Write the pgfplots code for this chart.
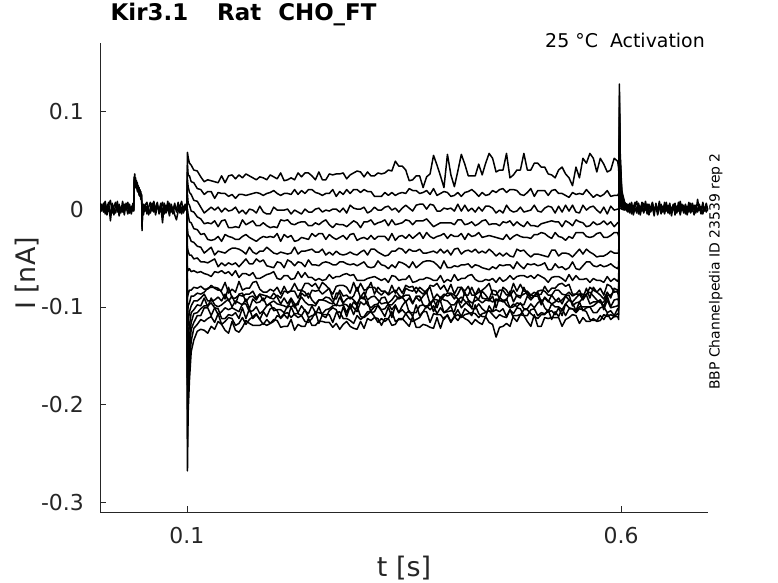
\documentclass[border=0pt]{standalone}
\usepackage{fontspec}
\setmainfont{DejaVu Sans}
\usepackage{pgfplots}
\usepackage{pgfplotstable}
\pgfplotsset{compat=1.18}
\definecolor{axgray}{RGB}{38,38,38}
\pgfplotsset{trace/.style={black, line width=1.5bp, mark=none, line join=round}}

\pgfplotstableread{
t A B C D E F G H I J K L M N O P
0.1000 0.001 -0.001 0.002 0.000 -0.002 0.001 -0.001 0.002 0.000 -0.001 0.001 -0.002 0.000 0.002 -0.001 0.000
0.1007 0.058 0.045 0.030 0.015 0.000 -0.020 -0.040 -0.060 -0.090 -0.110 -0.130 -0.155 -0.180 -0.205 -0.235 -0.268
0.1015 0.053 0.035 0.023 0.006 -0.006 -0.027 -0.043 -0.063 -0.087 -0.099 -0.116 -0.131 -0.150 -0.165 -0.187 -0.208
0.1030 0.047 0.034 0.017 0.004 -0.013 -0.028 -0.047 -0.061 -0.083 -0.096 -0.105 -0.119 -0.130 -0.144 -0.157 -0.175
0.1050 0.045 0.028 0.015 -0.002 -0.014 -0.033 -0.047 -0.064 -0.083 -0.089 -0.099 -0.106 -0.116 -0.123 -0.135 -0.146
0.1080 0.040 0.027 0.009 -0.003 -0.020 -0.034 -0.051 -0.063 -0.080 -0.089 -0.094 -0.103 -0.107 -0.116 -0.122 -0.134
0.1120 0.039 0.021 0.008 -0.008 -0.021 -0.038 -0.050 -0.065 -0.081 -0.086 -0.094 -0.098 -0.106 -0.109 -0.118 -0.125
0.1160 0.033 0.020 0.002 -0.010 -0.026 -0.039 -0.054 -0.064 -0.079 -0.087 -0.091 -0.099 -0.102 -0.109 -0.113 -0.123
0.120 0.028 0.015 -0.004 -0.015 -0.025 -0.045 -0.054 -0.066 -0.082 -0.085 -0.087 -0.091 -0.099 -0.101 -0.115 -0.124
0.124 0.030 0.018 -0.001 -0.014 -0.031 -0.042 -0.055 -0.067 -0.082 -0.081 -0.094 -0.100 -0.099 -0.101 -0.112 -0.127
0.128 0.029 0.018 0.002 -0.015 -0.032 -0.039 -0.053 -0.069 -0.078 -0.080 -0.094 -0.091 -0.096 -0.109 -0.110 -0.120
0.132 0.028 0.011 -0.001 -0.012 -0.031 -0.047 -0.051 -0.064 -0.081 -0.080 -0.093 -0.098 -0.101 -0.101 -0.116 -0.123
0.136 0.027 0.017 0.002 -0.018 -0.028 -0.043 -0.059 -0.065 -0.083 -0.081 -0.090 -0.100 -0.108 -0.102 -0.107 -0.115
0.140 0.034 0.016 -0.003 -0.012 -0.033 -0.044 -0.055 -0.063 -0.083 -0.085 -0.094 -0.098 -0.105 -0.112 -0.118 -0.118
0.144 0.027 0.016 0.001 -0.011 -0.026 -0.045 -0.058 -0.066 -0.075 -0.092 -0.087 -0.095 -0.101 -0.112 -0.115 -0.124
0.148 0.034 0.013 -0.002 -0.019 -0.028 -0.042 -0.055 -0.064 -0.086 -0.080 -0.094 -0.092 -0.103 -0.108 -0.111 -0.127
0.152 0.035 0.015 -0.001 -0.019 -0.029 -0.040 -0.057 -0.068 -0.082 -0.091 -0.089 -0.100 -0.101 -0.109 -0.112 -0.115
0.156 0.031 0.011 0.002 -0.018 -0.031 -0.040 -0.055 -0.063 -0.085 -0.091 -0.097 -0.094 -0.103 -0.106 -0.119 -0.124
0.160 0.035 0.015 -0.004 -0.019 -0.031 -0.041 -0.059 -0.070 -0.074 -0.088 -0.087 -0.096 -0.105 -0.112 -0.117 -0.126
0.164 0.032 0.015 -0.001 -0.011 -0.028 -0.043 -0.055 -0.066 -0.083 -0.089 -0.086 -0.098 -0.097 -0.101 -0.111 -0.121
0.168 0.036 0.014 -0.005 -0.016 -0.026 -0.046 -0.051 -0.066 -0.081 -0.087 -0.095 -0.092 -0.097 -0.112 -0.118 -0.114
0.172 0.034 0.015 0.000 -0.014 -0.029 -0.039 -0.056 -0.068 -0.081 -0.087 -0.090 -0.102 -0.105 -0.102 -0.113 -0.117
0.176 0.032 0.016 -0.001 -0.012 -0.031 -0.044 -0.056 -0.065 -0.075 -0.084 -0.089 -0.092 -0.104 -0.112 -0.110 -0.119
0.180 0.030 0.017 -0.004 -0.017 -0.033 -0.046 -0.051 -0.071 -0.074 -0.091 -0.093 -0.096 -0.100 -0.108 -0.107 -0.119
0.184 0.033 0.016 0.003 -0.017 -0.030 -0.043 -0.054 -0.071 -0.082 -0.087 -0.087 -0.095 -0.107 -0.113 -0.113 -0.119
0.188 0.032 0.014 -0.003 -0.014 -0.028 -0.043 -0.052 -0.069 -0.085 -0.088 -0.094 -0.091 -0.104 -0.105 -0.118 -0.117
0.192 0.030 0.016 -0.005 -0.017 -0.029 -0.039 -0.058 -0.067 -0.085 -0.089 -0.089 -0.099 -0.099 -0.110 -0.113 -0.119
0.196 0.035 0.017 -0.005 -0.019 -0.028 -0.042 -0.059 -0.066 -0.082 -0.091 -0.091 -0.096 -0.097 -0.102 -0.117 -0.117
0.200 0.033 0.019 0.002 -0.018 -0.029 -0.045 -0.060 -0.064 -0.084 -0.092 -0.086 -0.094 -0.104 -0.101 -0.115 -0.113
0.204 0.031 0.016 -0.001 -0.019 -0.025 -0.046 -0.054 -0.071 -0.080 -0.088 -0.090 -0.097 -0.103 -0.104 -0.109 -0.114
0.208 0.037 0.014 -0.001 -0.011 -0.033 -0.044 -0.055 -0.072 -0.087 -0.091 -0.097 -0.098 -0.103 -0.112 -0.111 -0.121
0.212 0.029 0.016 -0.001 -0.012 -0.026 -0.045 -0.060 -0.068 -0.079 -0.084 -0.091 -0.099 -0.106 -0.108 -0.107 -0.120
0.216 0.030 0.016 0.000 -0.011 -0.029 -0.046 -0.052 -0.068 -0.086 -0.085 -0.097 -0.101 -0.099 -0.112 -0.106 -0.120
0.220 0.032 0.015 -0.005 -0.015 -0.027 -0.045 -0.054 -0.072 -0.083 -0.084 -0.091 -0.093 -0.100 -0.100 -0.111 -0.113
0.224 0.030 0.020 -0.001 -0.016 -0.033 -0.039 -0.058 -0.071 -0.076 -0.084 -0.097 -0.101 -0.098 -0.108 -0.107 -0.124
0.228 0.037 0.015 -0.003 -0.014 -0.032 -0.046 -0.054 -0.064 -0.083 -0.091 -0.098 -0.095 -0.106 -0.111 -0.107 -0.118
0.232 0.033 0.019 -0.005 -0.013 -0.029 -0.043 -0.055 -0.070 -0.083 -0.083 -0.086 -0.090 -0.099 -0.109 -0.109 -0.120
0.236 0.037 0.016 0.000 -0.013 -0.030 -0.043 -0.059 -0.065 -0.076 -0.085 -0.089 -0.095 -0.104 -0.103 -0.115 -0.120
0.240 0.037 0.020 -0.003 -0.017 -0.031 -0.042 -0.052 -0.070 -0.076 -0.091 -0.086 -0.098 -0.107 -0.111 -0.116 -0.112
0.244 0.034 0.020 -0.003 -0.017 -0.025 -0.041 -0.057 -0.070 -0.079 -0.083 -0.093 -0.098 -0.099 -0.109 -0.112 -0.119
0.248 0.030 0.017 0.000 -0.014 -0.028 -0.044 -0.057 -0.073 -0.076 -0.084 -0.097 -0.099 -0.106 -0.108 -0.105 -0.119
0.252 0.038 0.016 0.001 -0.016 -0.025 -0.044 -0.058 -0.071 -0.082 -0.083 -0.093 -0.093 -0.106 -0.100 -0.117 -0.115
0.256 0.030 0.014 -0.003 -0.013 -0.025 -0.041 -0.055 -0.073 -0.075 -0.087 -0.093 -0.093 -0.107 -0.109 -0.108 -0.115
0.260 0.030 0.016 -0.001 -0.011 -0.031 -0.047 -0.054 -0.072 -0.078 -0.084 -0.094 -0.090 -0.103 -0.111 -0.108 -0.116
0.264 0.036 0.016 -0.002 -0.016 -0.026 -0.044 -0.055 -0.067 -0.082 -0.081 -0.096 -0.091 -0.102 -0.104 -0.108 -0.116
0.268 0.035 0.020 0.000 -0.019 -0.029 -0.047 -0.057 -0.071 -0.087 -0.092 -0.097 -0.095 -0.099 -0.101 -0.116 -0.121
0.272 0.036 0.013 0.000 -0.015 -0.031 -0.043 -0.057 -0.069 -0.079 -0.092 -0.086 -0.099 -0.098 -0.103 -0.106 -0.117
0.276 0.036 0.018 -0.003 -0.016 -0.029 -0.046 -0.054 -0.069 -0.078 -0.083 -0.086 -0.090 -0.099 -0.112 -0.105 -0.123
0.280 0.037 0.015 0.001 -0.016 -0.027 -0.047 -0.054 -0.067 -0.078 -0.089 -0.096 -0.097 -0.098 -0.100 -0.112 -0.118
0.284 0.031 0.020 -0.004 -0.018 -0.031 -0.046 -0.056 -0.066 -0.080 -0.088 -0.092 -0.098 -0.106 -0.110 -0.112 -0.115
0.288 0.035 0.016 0.004 -0.015 -0.026 -0.044 -0.057 -0.068 -0.086 -0.092 -0.090 -0.102 -0.097 -0.099 -0.114 -0.120
0.292 0.037 0.020 0.001 -0.012 -0.025 -0.046 -0.056 -0.067 -0.075 -0.089 -0.093 -0.095 -0.101 -0.108 -0.117 -0.122
0.296 0.039 0.020 0.000 -0.014 -0.032 -0.047 -0.058 -0.073 -0.084 -0.080 -0.097 -0.099 -0.105 -0.099 -0.109 -0.123
0.300 0.038 0.017 0.000 -0.019 -0.030 -0.044 -0.056 -0.073 -0.076 -0.091 -0.090 -0.090 -0.095 -0.110 -0.113 -0.115
0.304 0.033 0.020 0.002 -0.013 -0.029 -0.042 -0.054 -0.073 -0.083 -0.092 -0.085 -0.090 -0.098 -0.111 -0.110 -0.122
0.308 0.038 0.018 -0.004 -0.013 -0.031 -0.047 -0.059 -0.071 -0.082 -0.080 -0.093 -0.098 -0.094 -0.108 -0.105 -0.112
0.312 0.034 0.018 -0.002 -0.011 -0.027 -0.041 -0.060 -0.070 -0.075 -0.080 -0.090 -0.101 -0.106 -0.104 -0.105 -0.114
0.316 0.034 0.013 0.002 -0.016 -0.031 -0.041 -0.059 -0.069 -0.087 -0.080 -0.089 -0.098 -0.105 -0.100 -0.110 -0.111
0.320 0.037 0.013 -0.001 -0.014 -0.028 -0.044 -0.053 -0.071 -0.080 -0.085 -0.093 -0.097 -0.098 -0.099 -0.116 -0.112
0.324 0.036 0.013 -0.001 -0.013 -0.028 -0.046 -0.057 -0.073 -0.084 -0.088 -0.097 -0.091 -0.103 -0.104 -0.112 -0.119
0.328 0.037 0.017 0.002 -0.011 -0.028 -0.048 -0.058 -0.071 -0.084 -0.084 -0.096 -0.090 -0.102 -0.110 -0.115 -0.112
0.332 0.040 0.014 0.003 -0.017 -0.032 -0.047 -0.061 -0.075 -0.087 -0.088 -0.096 -0.098 -0.097 -0.100 -0.112 -0.112
0.336 0.039 0.017 -0.001 -0.011 -0.025 -0.043 -0.057 -0.068 -0.078 -0.085 -0.093 -0.098 -0.103 -0.111 -0.105 -0.119
0.340 0.049 0.014 0.001 -0.016 -0.032 -0.043 -0.060 -0.069 -0.086 -0.083 -0.088 -0.094 -0.098 -0.099 -0.115 -0.118
0.344 0.044 0.016 -0.003 -0.015 -0.028 -0.040 -0.054 -0.073 -0.080 -0.088 -0.092 -0.090 -0.106 -0.106 -0.113 -0.112
0.348 0.044 0.017 0.001 -0.014 -0.027 -0.041 -0.055 -0.072 -0.086 -0.091 -0.090 -0.090 -0.099 -0.103 -0.113 -0.112
0.352 0.040 0.016 0.004 -0.011 -0.030 -0.045 -0.057 -0.072 -0.078 -0.081 -0.088 -0.095 -0.094 -0.107 -0.107 -0.116
0.356 0.029 0.021 0.001 -0.012 -0.026 -0.041 -0.060 -0.068 -0.080 -0.083 -0.088 -0.091 -0.106 -0.104 -0.112 -0.120
0.360 0.030 0.019 -0.002 -0.016 -0.030 -0.043 -0.054 -0.075 -0.079 -0.084 -0.096 -0.097 -0.106 -0.110 -0.115 -0.110
0.364 0.034 0.019 0.004 -0.012 -0.027 -0.043 -0.060 -0.074 -0.086 -0.080 -0.090 -0.089 -0.106 -0.098 -0.113 -0.121
0.368 0.034 0.016 0.005 -0.012 -0.024 -0.041 -0.057 -0.072 -0.080 -0.084 -0.094 -0.089 -0.099 -0.109 -0.111 -0.121
0.372 0.022 0.017 0.005 -0.012 -0.030 -0.045 -0.054 -0.072 -0.083 -0.087 -0.089 -0.098 -0.098 -0.105 -0.105 -0.118
0.376 0.033 0.019 0.000 -0.010 -0.024 -0.045 -0.053 -0.070 -0.086 -0.083 -0.085 -0.100 -0.101 -0.099 -0.105 -0.119
0.380 0.036 0.015 0.005 -0.014 -0.028 -0.044 -0.053 -0.071 -0.078 -0.080 -0.097 -0.098 -0.095 -0.103 -0.116 -0.121
0.384 0.055 0.021 0.004 -0.018 -0.030 -0.043 -0.054 -0.073 -0.079 -0.092 -0.092 -0.093 -0.105 -0.099 -0.107 -0.122
0.388 0.045 0.014 -0.002 -0.016 -0.028 -0.045 -0.057 -0.073 -0.076 -0.087 -0.093 -0.101 -0.095 -0.107 -0.108 -0.111
0.392 0.034 0.016 -0.002 -0.014 -0.027 -0.041 -0.061 -0.068 -0.082 -0.091 -0.094 -0.090 -0.094 -0.101 -0.108 -0.122
0.396 0.022 0.018 0.001 -0.014 -0.025 -0.045 -0.053 -0.075 -0.078 -0.087 -0.089 -0.093 -0.106 -0.106 -0.113 -0.111
0.400 0.056 0.017 0.000 -0.014 -0.030 -0.042 -0.060 -0.072 -0.085 -0.089 -0.086 -0.094 -0.105 -0.103 -0.108 -0.109
0.404 0.035 0.013 0.001 -0.014 -0.026 -0.047 -0.060 -0.074 -0.077 -0.087 -0.086 -0.098 -0.104 -0.099 -0.115 -0.116
0.408 0.023 0.014 -0.002 -0.016 -0.028 -0.041 -0.058 -0.067 -0.087 -0.092 -0.088 -0.098 -0.105 -0.109 -0.110 -0.110
0.412 0.039 0.017 0.005 -0.011 -0.028 -0.040 -0.059 -0.073 -0.080 -0.087 -0.092 -0.093 -0.093 -0.103 -0.108 -0.114
0.416 0.056 0.013 -0.002 -0.011 -0.025 -0.046 -0.057 -0.071 -0.080 -0.080 -0.096 -0.090 -0.101 -0.110 -0.111 -0.109
0.420 0.046 0.017 0.004 -0.016 -0.031 -0.043 -0.057 -0.071 -0.084 -0.088 -0.085 -0.094 -0.097 -0.102 -0.108 -0.112
0.424 0.034 0.018 -0.002 -0.015 -0.025 -0.042 -0.056 -0.068 -0.079 -0.088 -0.093 -0.098 -0.094 -0.105 -0.107 -0.114
0.428 0.034 0.020 0.001 -0.013 -0.028 -0.044 -0.060 -0.067 -0.088 -0.080 -0.096 -0.101 -0.102 -0.109 -0.106 -0.118
0.432 0.034 0.017 -0.003 -0.017 -0.027 -0.041 -0.057 -0.072 -0.088 -0.088 -0.094 -0.089 -0.102 -0.098 -0.107 -0.113
0.436 0.046 0.013 0.002 -0.015 -0.024 -0.045 -0.058 -0.074 -0.085 -0.081 -0.092 -0.093 -0.097 -0.107 -0.111 -0.116
0.440 0.035 0.017 -0.002 -0.012 -0.029 -0.043 -0.060 -0.074 -0.083 -0.091 -0.084 -0.096 -0.102 -0.110 -0.107 -0.118
0.444 0.047 0.014 0.003 -0.011 -0.028 -0.045 -0.061 -0.072 -0.080 -0.092 -0.088 -0.093 -0.105 -0.110 -0.106 -0.110
0.448 0.057 0.015 0.003 -0.016 -0.027 -0.041 -0.062 -0.073 -0.076 -0.092 -0.093 -0.094 -0.104 -0.099 -0.104 -0.116
0.452 0.052 0.019 0.001 -0.015 -0.028 -0.044 -0.059 -0.071 -0.087 -0.083 -0.095 -0.089 -0.105 -0.105 -0.108 -0.118
0.456 0.038 0.017 -0.004 -0.015 -0.029 -0.048 -0.061 -0.075 -0.088 -0.084 -0.092 -0.101 -0.093 -0.103 -0.112 -0.131
0.460 0.040 0.020 -0.001 -0.017 -0.030 -0.045 -0.057 -0.070 -0.083 -0.092 -0.093 -0.090 -0.094 -0.105 -0.108 -0.121
0.464 0.040 0.021 -0.004 -0.013 -0.031 -0.048 -0.058 -0.074 -0.083 -0.080 -0.095 -0.094 -0.093 -0.102 -0.110 -0.120
0.468 0.057 0.017 0.004 -0.014 -0.026 -0.045 -0.057 -0.072 -0.088 -0.083 -0.093 -0.092 -0.098 -0.110 -0.111 -0.117
0.472 0.032 0.020 -0.001 -0.012 -0.031 -0.048 -0.057 -0.068 -0.087 -0.089 -0.084 -0.101 -0.101 -0.103 -0.103 -0.120
0.476 0.035 0.020 -0.003 -0.017 -0.028 -0.049 -0.061 -0.072 -0.076 -0.083 -0.095 -0.100 -0.097 -0.107 -0.111 -0.109
0.480 0.040 0.019 -0.002 -0.013 -0.026 -0.041 -0.054 -0.069 -0.084 -0.089 -0.088 -0.096 -0.100 -0.101 -0.115 -0.109
0.484 0.040 0.015 0.002 -0.016 -0.028 -0.043 -0.058 -0.068 -0.077 -0.091 -0.089 -0.097 -0.096 -0.102 -0.108 -0.108
0.488 0.057 0.014 -0.003 -0.018 -0.029 -0.042 -0.061 -0.068 -0.084 -0.080 -0.087 -0.098 -0.102 -0.109 -0.103 -0.109
0.492 0.040 0.017 -0.002 -0.013 -0.029 -0.046 -0.056 -0.070 -0.084 -0.088 -0.085 -0.089 -0.102 -0.109 -0.103 -0.115
0.496 0.040 0.021 -0.001 -0.017 -0.030 -0.049 -0.057 -0.068 -0.088 -0.088 -0.091 -0.093 -0.097 -0.103 -0.107 -0.120
0.500 0.047 0.013 0.004 -0.017 -0.026 -0.046 -0.056 -0.071 -0.085 -0.089 -0.089 -0.089 -0.101 -0.102 -0.110 -0.108
0.504 0.047 0.019 -0.002 -0.018 -0.026 -0.046 -0.058 -0.067 -0.088 -0.084 -0.085 -0.089 -0.096 -0.109 -0.112 -0.120
0.508 0.043 0.019 -0.003 -0.015 -0.024 -0.047 -0.057 -0.069 -0.087 -0.083 -0.095 -0.098 -0.093 -0.106 -0.108 -0.120
0.512 0.043 0.019 0.001 -0.014 -0.025 -0.048 -0.055 -0.071 -0.079 -0.084 -0.091 -0.090 -0.101 -0.107 -0.108 -0.111
0.516 0.036 0.014 0.003 -0.013 -0.028 -0.049 -0.062 -0.075 -0.085 -0.088 -0.095 -0.094 -0.105 -0.105 -0.103 -0.112
0.520 0.035 0.019 0.002 -0.012 -0.030 -0.042 -0.062 -0.070 -0.081 -0.088 -0.088 -0.097 -0.097 -0.104 -0.113 -0.111
0.524 0.032 0.020 -0.004 -0.013 -0.024 -0.042 -0.056 -0.069 -0.081 -0.083 -0.093 -0.095 -0.100 -0.108 -0.105 -0.111
0.528 0.040 0.016 0.003 -0.013 -0.028 -0.048 -0.060 -0.069 -0.077 -0.083 -0.095 -0.091 -0.100 -0.101 -0.110 -0.111
0.532 0.043 0.016 -0.003 -0.018 -0.029 -0.045 -0.059 -0.071 -0.076 -0.087 -0.093 -0.097 -0.103 -0.109 -0.102 -0.120
0.536 0.036 0.014 0.004 -0.012 -0.032 -0.045 -0.062 -0.074 -0.079 -0.088 -0.089 -0.089 -0.097 -0.097 -0.109 -0.113
0.540 0.032 0.012 -0.002 -0.014 -0.028 -0.046 -0.060 -0.067 -0.077 -0.085 -0.093 -0.088 -0.093 -0.101 -0.102 -0.111
0.544 0.024 0.017 0.004 -0.017 -0.030 -0.049 -0.054 -0.073 -0.087 -0.089 -0.095 -0.099 -0.096 -0.102 -0.102 -0.108
0.548 0.043 0.015 -0.003 -0.011 -0.024 -0.045 -0.061 -0.068 -0.087 -0.087 -0.091 -0.096 -0.104 -0.104 -0.106 -0.109
0.552 0.032 0.016 -0.004 -0.013 -0.024 -0.041 -0.062 -0.072 -0.087 -0.083 -0.087 -0.095 -0.095 -0.100 -0.102 -0.117
0.556 0.052 0.015 0.004 -0.014 -0.024 -0.046 -0.058 -0.072 -0.087 -0.091 -0.093 -0.091 -0.104 -0.100 -0.103 -0.111
0.560 0.047 0.020 -0.001 -0.018 -0.028 -0.041 -0.054 -0.071 -0.088 -0.081 -0.087 -0.088 -0.101 -0.100 -0.105 -0.115
0.564 0.057 0.016 0.002 -0.017 -0.029 -0.044 -0.054 -0.075 -0.080 -0.091 -0.085 -0.097 -0.100 -0.100 -0.113 -0.115
0.568 0.052 0.012 0.003 -0.013 -0.028 -0.046 -0.058 -0.071 -0.083 -0.080 -0.089 -0.095 -0.099 -0.106 -0.114 -0.112
0.572 0.038 0.015 -0.001 -0.016 -0.025 -0.049 -0.059 -0.073 -0.085 -0.085 -0.093 -0.095 -0.096 -0.106 -0.114 -0.115
0.576 0.052 0.013 -0.004 -0.015 -0.024 -0.048 -0.057 -0.073 -0.081 -0.088 -0.096 -0.093 -0.093 -0.101 -0.109 -0.114
0.580 0.046 0.015 0.002 -0.012 -0.029 -0.048 -0.059 -0.075 -0.088 -0.092 -0.095 -0.100 -0.103 -0.100 -0.113 -0.108
0.584 0.038 0.019 -0.005 -0.016 -0.029 -0.046 -0.058 -0.069 -0.077 -0.085 -0.088 -0.089 -0.093 -0.106 -0.107 -0.110
0.588 0.040 0.013 0.003 -0.013 -0.027 -0.043 -0.056 -0.074 -0.079 -0.091 -0.088 -0.100 -0.101 -0.104 -0.113 -0.108
0.592 0.052 0.014 -0.001 -0.018 -0.024 -0.045 -0.059 -0.071 -0.085 -0.081 -0.084 -0.093 -0.100 -0.109 -0.110 -0.110
0.596 0.049 0.014 0.000 -0.014 -0.024 -0.045 -0.061 -0.074 -0.084 -0.083 -0.085 -0.092 -0.099 -0.102 -0.107 -0.110
0.5972 0.041 0.016 0.000 -0.014 -0.028 -0.045 -0.058 -0.071 -0.082 -0.086 -0.090 -0.094 -0.098 -0.103 -0.108 -0.113
0.5980 0.002 0.008 0.012 0.018 0.025 0.032 0.040 0.048 0.058 0.066 0.075 0.084 0.094 0.104 0.116 0.128
0.5989 0.001 0.004 0.005 0.008 0.011 0.014 0.018 0.022 0.026 0.030 0.034 0.038 0.042 0.047 0.052 0.058
0.6007 0.000 0.001 0.002 0.003 0.004 0.005 0.006 0.007 0.009 0.010 0.011 0.013 0.014 0.016 0.017 0.019
0.6037 -0.001 0.002 0.000 0.001 0.003 0.001 0.002 0.004 0.002 0.005 0.003 0.006 0.004 0.007 0.005 0.008
0.6077 0.002 -0.002 0.001 -0.001 0.003 0.000 -0.003 0.002 0.001 -0.002 0.004 0.000 -0.001 0.003 0.002 -0.002
}\steps

\pgfplotstableread{
t b1 b2 b3
0.000 0.003 -0.004 0.006
0.002 -0.002 0.005 -0.001
0.004 0.006 -0.003 0.002
0.006 -0.005 0.004 0.008
0.008 0.002 -0.006 -0.002
0.010 0.007 0.001 0.004
0.012 -0.012 -0.005 0.009
0.014 0.004 0.006 -0.004
0.016 -0.006 0.000 0.003
0.018 0.005 -0.004 0.007
0.020 -0.001 0.008 -0.003
0.022 0.003 -0.007 0.005
0.024 -0.004 0.002 -0.001
0.026 0.008 -0.003 0.004
0.028 -0.002 0.005 -0.006
0.030 0.004 -0.001 0.006
0.032 -0.005 0.007 0.000
0.034 0.002 -0.004 0.005
0.036 -0.003 0.003 -0.005
0.038 0.006 -0.002 0.003
0.0390 -0.001 0.004 -0.002
0.0394 0.030 0.033 0.028
0.0400 0.036 0.027 0.031
0.0410 0.025 0.032 0.022
0.0420 0.029 0.021 0.027
0.0430 0.020 0.027 0.018
0.0440 0.024 0.017 0.023
0.0450 0.016 0.022 0.014
0.0460 0.020 0.013 0.019
0.0470 0.012 0.018 0.010
0.0480 0.015 0.009 0.014
0.0484 -0.020 -0.016 -0.022
0.0490 0.003 -0.004 0.001
0.050 -0.003 0.005 -0.006
0.052 0.005 -0.002 0.004
0.054 -0.005 0.003 0.007
0.056 0.002 -0.006 -0.001
0.058 0.007 0.001 -0.004
0.060 -0.002 0.006 0.003
0.062 0.004 -0.003 0.008
0.064 -0.006 0.002 -0.002
0.066 0.003 0.007 0.005
0.068 -0.001 -0.005 -0.003
0.070 0.006 0.003 0.002
0.072 -0.004 -0.014 0.007
0.074 0.005 0.006 -0.005
0.076 -0.003 -0.004 0.004
0.078 0.008 0.002 -0.001
0.080 -0.002 -0.007 0.006
0.082 0.003 0.005 -0.003
0.084 -0.005 -0.002 0.002
0.086 0.004 0.006 -0.006
0.088 -0.001 -0.003 -0.011
0.090 0.007 0.001 -0.002
0.092 -0.004 0.004 0.003
0.094 0.002 -0.005 0.008
0.096 -0.003 0.003 -0.004
0.098 0.005 -0.001 0.002
0.100 0.000 0.002 -0.001
}\prebase

\pgfplotstableread{
t b1 b2 b3
0.606 0.004 -0.002 0.006
0.608 -0.003 0.005 0.001
0.610 0.006 -0.004 -0.002
0.612 -0.005 0.003 0.007
0.614 0.002 -0.006 -0.003
0.616 0.007 0.001 0.004
0.618 -0.002 -0.004 0.008
0.620 0.004 0.006 -0.005
0.622 -0.006 -0.001 0.003
0.624 0.003 0.007 -0.002
0.626 -0.004 -0.003 0.006
0.628 0.008 0.002 -0.001
0.630 -0.001 -0.005 0.005
0.632 0.005 0.004 -0.006
0.634 -0.003 -0.002 0.002
0.636 0.002 0.006 0.007
0.638 -0.007 -0.001 -0.003
0.640 0.006 0.003 0.004
0.642 -0.002 -0.006 -0.001
0.644 0.004 0.001 0.008
0.646 -0.005 0.005 -0.004
0.648 0.003 -0.003 0.002
0.650 -0.001 0.007 -0.005
0.652 0.007 -0.002 0.003
0.654 -0.004 0.004 -0.002
0.656 0.002 -0.005 0.006
0.658 -0.003 0.002 -0.007
0.660 0.005 -0.001 0.004
0.662 -0.006 0.006 0.001
0.664 0.003 -0.004 -0.003
0.666 -0.002 0.003 0.007
0.668 0.008 -0.006 -0.001
0.670 -0.001 0.002 0.005
0.672 0.004 -0.003 -0.004
0.674 -0.005 0.005 0.002
0.676 0.002 -0.001 -0.006
0.678 -0.003 0.007 0.003
0.680 0.006 -0.004 -0.002
0.682 -0.002 0.001 0.006
0.684 0.004 -0.006 -0.001
0.686 -0.004 0.003 0.004
0.688 0.010 -0.002 -0.003
0.690 -0.001 0.005 0.002
0.692 0.003 -0.003 -0.005
0.694 -0.005 0.004 0.007
0.696 0.002 -0.001 -0.002
0.698 -0.003 0.006 0.003
0.700 0.001 -0.002 -0.001
}\postbase

\begin{document}
\begin{tikzpicture}
\path[use as bounding box] (0,0) rectangle (778bp,583bp);
\begin{axis}[
  at={(100bp,71bp)}, anchor=south west,
  scale only axis, width=608bp, height=469bp,
  xmin=0, xmax=0.7, ymin=-0.31, ymax=0.17,
  axis x line*=bottom, axis y line*=left,
  axis line style={draw=axgray, line width=0.6bp, -},
  xtick={0.1,0.6}, xticklabels={0.1,0.6},
  ytick={-0.3,-0.2,-0.1,0,0.1}, yticklabels={-0.3,-0.2,-0.1,0,0.1},
  tick align=inside, major tick length=6bp,
  tick style={draw=axgray, line width=0.6bp},
  tick label style={font=\fontsize{22}{26}\selectfont, text=axgray},
  yticklabel style={anchor=east, inner sep=0pt, xshift=-16bp},
  xticklabel style={anchor=north, inner sep=0pt, yshift=-15bp},
  xlabel={t [s]}, ylabel={I [nA]},
  label style={font=\fontsize{27}{32}\selectfont, text=axgray, inner sep=0pt},
  xlabel style={at={([yshift=-64bp]axis description cs:0.5,0)}, anchor=base},
  ylabel style={at={([xshift=-64.2bp,yshift=4bp]axis description cs:0,0.5)}, anchor=base},
  title={Kir3.1\hspace{29bp}Rat\hspace{17bp}CHO\_FT},
  title style={at={([xshift=10.5bp,yshift=17bp]axis description cs:0,1)}, anchor=base west, inner sep=0pt, font=\fontsize{23}{27}\selectfont\bfseries, text=black},
]
\pgfplotsinvokeforeach{A,B,C,D,E,F,G,H,I,J,K,L,M,N,O,P}{
  \addplot[trace] table[x=t,y=#1]{\steps};
}
\pgfplotsinvokeforeach{b1,b2,b3}{
  \addplot[trace] table[x=t,y=#1]{\prebase};
  \addplot[trace] table[x=t,y=#1]{\postbase};
}
\end{axis}
\node[anchor=base east, inner sep=0pt, font=\fontsize{19}{23}\selectfont] at (705bp,535.7bp) {25 °C\ \ Activation};
\node[rotate=90, anchor=base, inner sep=0pt, font=\fontsize{14}{17}\selectfont] at (719.5bp,311.5bp) {BBP Channelpedia ID 23539 rep 2};
\end{tikzpicture}
\end{document}
